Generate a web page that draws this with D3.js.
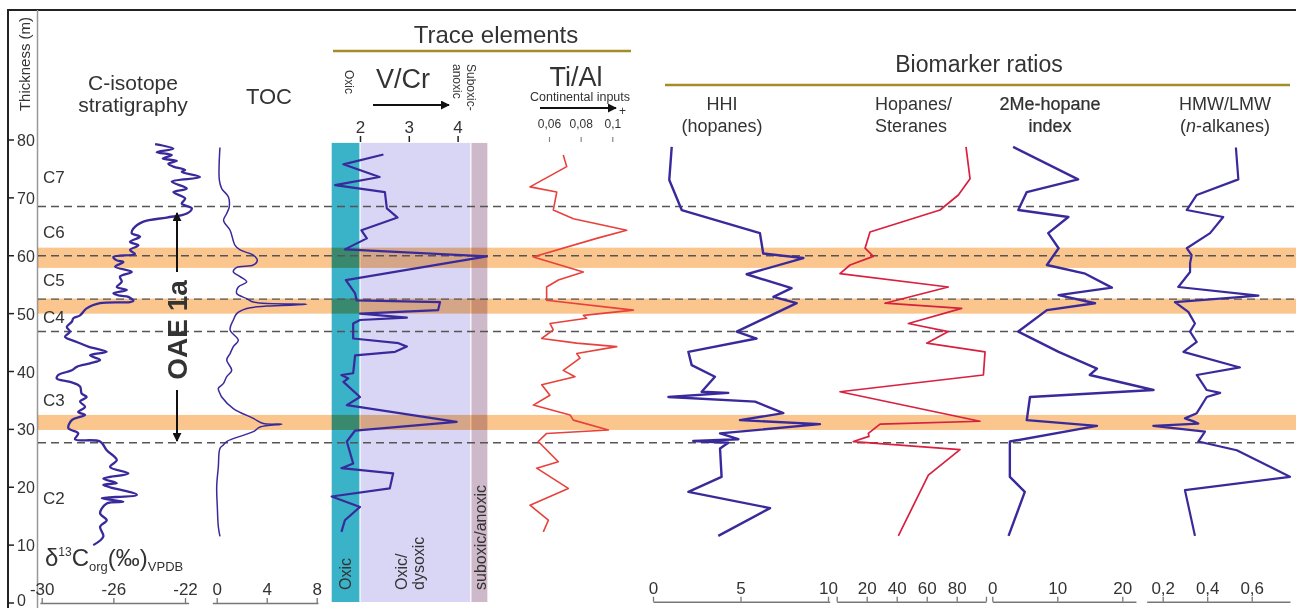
<!DOCTYPE html>
<html>
<head>
<meta charset="utf-8">
<script src="https://cdn.jsdelivr.net/npm/d3@7"></script>
<style>
  body { margin: 0; background: #fff; }
  text { font-family: "Liberation Sans", Arial, sans-serif; fill: #333; }
</style>
</head>
<body>
<div id="chart"></div>
<script>
// ---- data: [thickness (m), value] ----
const isotope = [[79.3,-23.67],[78.5,-22.65],[77.9,-23.58],[77.4,-22.74],[76.8,-23.24],[76.4,-22.46],[75.9,-22.93],[75.4,-22.65],[74.8,-21.99],[74.5,-22.18],[73.6,-21.16],[72.8,-22.74],[71.6,-21.9],[71.0,-22.65],[69.9,-21.99],[69.0,-22.18],[68.2,-21.62],[67.3,-21.9],[66.6,-23.02],[65.9,-24.32],[64.7,-24.88],[63.9,-24.97],[63.3,-24.51],[62.4,-25.07],[61.8,-24.6],[61.0,-25.07],[60.3,-24.79],[59.8,-26.0],[59.2,-25.81],[58.9,-25.44],[58.1,-25.9],[57.2,-24.97],[56.4,-25.63],[55.5,-25.53],[54.6,-25.81],[54.1,-25.25],[53.5,-26.0],[53.1,-25.63],[52.9,-25.16],[52.2,-24.88],[52.0,-25.07],[51.8,-26.74],[50.9,-27.49],[49.7,-27.86],[49.2,-28.23],[48.6,-28.32],[47.7,-28.6],[46.9,-28.42],[46.0,-28.7],[45.1,-28.04],[44.3,-27.4],[43.4,-26.37],[42.8,-27.3],[42.0,-26.74],[41.4,-27.3],[40.8,-28.04],[40.2,-28.32],[39.4,-29.07],[38.8,-29.16],[38.2,-28.42],[37.4,-27.86],[36.2,-27.77],[35.6,-27.49],[34.8,-27.86],[33.9,-27.58],[33.0,-27.96],[32.5,-27.58],[31.6,-28.32],[30.2,-28.51],[29.3,-27.96],[28.3,-28.14],[27.9,-26.74],[26.4,-26.37],[24.7,-25.81],[23.5,-26.18],[22.4,-25.16],[21.5,-26.56],[20.7,-25.81],[20.4,-26.56],[18.7,-24.69],[18.1,-26.65],[17.5,-25.44],[17.2,-26.37],[15.5,-26.74],[14.3,-26.37],[13.2,-26.74],[11.5,-26.56],[10.0,-27.12]];

const toc = [[78.7,0.26],[73.1,0.21],[71.6,0.4],[70.2,0.93],[68.4,1.0],[67.3,0.8],[66.1,0.55],[64.4,1.07],[61.8,1.47],[61.0,1.87],[60.1,2.93],[59.2,3.25],[58.4,2.93],[58.0,1.6],[57.2,1.33],[56.4,1.87],[55.5,2.4],[54.6,1.73],[53.5,1.6],[52.6,2.4],[52.0,2.93],[51.6,7.2],[51.3,4.0],[50.9,2.4],[50.0,1.6],[48.9,1.33],[47.2,1.07],[45.4,1.73],[44.3,1.33],[43.1,1.07],[42.0,0.8],[40.2,1.2],[39.1,0.8],[37.9,0.53],[37.1,0.13],[36.2,0.26],[35.6,0.4],[33.6,1.33],[31.9,2.93],[31.0,3.73],[30.9,5.2],[30.4,3.47],[29.6,2.93],[28.4,1.33],[27.9,0.8],[27.3,0.53],[26.7,0.26],[23.5,0.13],[20.1,0.0],[16.6,0.05],[13.2,0.13],[11.5,0.26]];

const vcr = [[77.5,2.48],[75.8,1.66],[73.6,2.4],[72.2,1.49],[71.0,2.51],[68.2,2.55],[66.6,2.77],[64.4,2.03],[63.0,2.14],[61.1,1.69],[59.9,4.6],[55.8,1.71],[53.5,1.9],[52.3,1.93],[52.0,3.64],[50.6,3.6],[50.0,2.0],[49.3,2.96],[48.9,2.0],[48.3,1.86],[45.7,1.86],[44.9,2.79],[44.3,2.96],[43.4,2.72],[42.8,1.9],[39.7,1.86],[39.4,1.62],[38.8,1.76],[38.2,1.66],[35.6,2.0],[34.2,1.73],[33.9,1.97],[31.3,3.98],[29.8,1.9],[27.9,1.73],[24.1,1.86],[23.3,1.62],[22.4,2.68],[19.8,2.61],[18.4,1.42],[16.6,2.0],[14.3,1.69],[12.3,1.62]];

const tial = [[77.4,0.069],[75.4,0.0712],[71.9,0.048],[71.0,0.0649],[67.9,0.0627],[66.4,0.0754],[64.4,0.1091],[63.0,0.0901],[59.8,0.0501],[57.2,0.0817],[55.8,0.0659],[54.6,0.0585],[52.3,0.0585],[50.6,0.1133],[49.7,0.0817],[49.2,0.0838],[48.3,0.0606],[47.2,0.0627],[45.7,0.0554],[44.9,0.0775],[44.3,0.1028],[43.1,0.0775],[42.3,0.0796],[40.2,0.069],[39.1,0.0764],[37.7,0.0554],[35.9,0.0606],[34.2,0.0501],[32.5,0.0733],[31.6,0.0754],[29.9,0.0975],[29.3,0.0585],[27.9,0.0532],[24.4,0.0659],[23.3,0.0522],[19.8,0.0722],[16.9,0.048],[14.3,0.0596],[12.3,0.0564]];

const hhi = [[78.8,1.07],[73.1,0.93],[67.9,1.64],[63.9,6.11],[60.4,6.3],[59.6,8.59],[56.8,5.35],[54.4,7.92],[52.9,6.88],[51.8,8.21],[46.9,4.78],[45.7,5.92],[43.4,2.02],[41.1,2.21],[39.1,3.54],[36.5,2.78],[36.3,4.3],[35.6,0.88],[34.8,5.83],[32.8,7.45],[31.6,4.97],[30.9,9.54],[29.3,3.83],[28.3,4.88],[28.0,2.3],[27.7,4.3],[26.7,3.83],[21.8,3.92],[19.2,2.02],[16.4,6.69],[11.6,3.73]];

const hopSter = [[78.8,86.2],[73.3,88.9],[70.5,81.1],[67.9,68.9],[64.1,22.2],[61.3,18.9],[59.9,24.4],[58.4,8.9],[56.9,2.2],[54.6,74.4],[51.8,32.2],[50.9,83.3],[48.3,47.8],[46.9,74.4],[44.9,60.0],[43.4,98.9],[39.4,97.8],[36.5,2.2],[31.4,95.5],[30.9,28.9],[29.3,21.1],[28.8,21.5],[27.9,11.1],[26.5,82.2],[22.1,61.1],[11.6,41.1]];

const meHopane = [[78.8,3.2],[73.2,13.2],[71.0,5.3],[67.9,4.0],[66.7,11.7],[63.9,8.6],[61.3,10.2],[58.4,8.4],[56.9,14.3],[54.5,18.4],[53.2,10.2],[51.8,15.8],[50.6,8.4],[46.9,4.0],[43.4,10.2],[40.5,16.1],[39.4,15.0],[36.8,24.8],[35.6,5.8],[31.6,5.3],[30.6,16.1],[27.9,2.7],[21.8,2.7],[19.2,5.0],[11.6,2.5]];

const hmwLmw = [[78.7,0.529],[73.2,0.54],[70.5,0.353],[67.9,0.308],[66.7,0.472],[63.9,0.413],[61.3,0.308],[60.1,0.33],[58.7,0.323],[57.2,0.323],[54.6,0.27],[53.1,0.63],[52.0,0.255],[50.3,0.315],[48.3,0.345],[46.9,0.323],[45.1,0.353],[43.4,0.293],[40.7,0.547],[39.4,0.353],[36.8,0.398],[36.3,0.458],[35.6,0.398],[32.8,0.353],[31.9,0.3],[31.3,0.345],[31.0,0.36],[30.6,0.158],[29.6,0.39],[27.9,0.36],[26.4,0.533],[21.8,0.772],[19.5,0.3],[11.6,0.345]];

// horizons and units
const eventBands = [[57.9, 61.4], [50.0, 52.6], [29.9, 32.5]];
const unitBoundaries = [68.5, 60.0, 52.5, 46.9, 27.7];
const units = [["C7", 73.6], ["C6", 64.1], ["C5", 55.8], ["C4", 49.4], ["C3", 35.1], ["C2", 18.1]];
const thicknessTicks = [0, 10, 20, 30, 40, 50, 60, 70, 80];
const redoxZones = [["Oxic", 1.42, 2.0], ["Oxic/dysoxic", 2.0, 4.27], ["suboxic/anoxic", 4.27, 4.61]];

// ---- svg ----
var svgWidth = 1296;
var svgHeight = 608;

var svg = d3.select("#chart")
  .append("svg")
  .attr("width", svgWidth)
  .attr("height", svgHeight);

const defs = svg.append("defs");
defs.append("marker")
  .attr("id", "arrow")
  .attr("viewBox", "0 0 10 10")
  .attr("refX", 9).attr("refY", 5)
  .attr("markerWidth", 4.5).attr("markerHeight", 4.5)
  .attr("markerUnits", "strokeWidth")
  .attr("orient", "auto")
  .append("path").attr("d", "M0,0 L10,5 L0,10 z").attr("fill", "#111");

// thickness scale shared by every column
const y = d3.scaleLinear().domain([0, 80]).range([603, 140]);

const xIso = d3.scaleLinear().domain([-30, -22]).range([41.7, 185]);
const xToc = d3.scaleLinear().domain([0, 8]).range([216.7, 316.7]);
const xVcr = d3.scaleLinear().domain([2, 4]).range([360, 457.6]);
const xTial = d3.scaleLinear().domain([0.06, 0.1]).range([549, 612.3]);
const xHhi = d3.scaleLinear().domain([0, 10]).range([653, 828]);
const xHop = d3.scaleLinear().domain([0, 100]).range([836.7, 986.7]);
const xMe = d3.scaleLinear().domain([0, 20]).range([992.3, 1122.3]);
const xHmw = d3.scaleLinear().domain([0.2, 0.6]).range([1162.7, 1251.7]);

const blue = "#392a9c";

// frame
svg.append("line").attr("x1", 7).attr("x2", 1296).attr("y1", 10).attr("y2", 10)
  .attr("stroke", "#222").attr("stroke-width", 2);
svg.append("line").attr("x1", 8).attr("x2", 8).attr("y1", 10).attr("y2", 608)
  .attr("stroke", "#222").attr("stroke-width", 2);
svg.append("line").attr("x1", 37.5).attr("x2", 37.5).attr("y1", 10).attr("y2", 608)
  .attr("stroke", "#999").attr("stroke-width", 1.5);

// redox background zones in the V/Cr column
const zoneFill = ["#3ab2c8", "#d9d6f5", "#cdb9c9"];
svg.selectAll(".zone")
  .data(redoxZones)
  .enter()
  .append("rect")
  .attr("class", "zone")
  .attr("x", d => xVcr(d[1]))
  .attr("width", d => xVcr(d[2]) - xVcr(d[1]))
  .attr("y", y(79.5))
  .attr("height", 602 - y(79.5))
  .attr("fill", (d, i) => zoneFill[i]);
redoxZones.slice(1).forEach(d => {
  svg.append("line").attr("x1", xVcr(d[1])).attr("x2", xVcr(d[1]))
    .attr("y1", y(79.5)).attr("y2", 602).attr("stroke", "#fff").attr("stroke-width", 1.5).attr("opacity", 0.8);
});

// OAE / event bands
svg.selectAll(".band")
  .data(eventBands)
  .enter()
  .append("rect")
  .attr("class", "band")
  .attr("x", 38)
  .attr("width", 1296 - 38)
  .attr("y", d => y(d[1]))
  .attr("height", d => y(d[0]) - y(d[1]))
  .attr("fill", "#fbc58e")
  .style("mix-blend-mode", "multiply");

// unit boundaries
svg.selectAll(".boundary")
  .data(unitBoundaries)
  .enter()
  .append("line")
  .attr("x1", 38).attr("x2", 1296)
  .attr("y1", d => y(d)).attr("y2", d => y(d))
  .attr("stroke", "#555").attr("stroke-width", 1.4)
  .attr("stroke-dasharray", "8,5");

// thickness axis
thicknessTicks.forEach(t => {
  svg.append("line").attr("x1", 8).attr("x2", 14).attr("y1", y(t)).attr("y2", y(t))
    .attr("stroke", "#222").attr("stroke-width", 1.5);
  svg.append("text").attr("x", 17).attr("y", Math.min(y(t) + 6, 606)).attr("font-size", 16).text(t);
});
svg.append("text")
  .attr("transform", "translate(30,64) rotate(-90)")
  .attr("text-anchor", "middle").attr("font-size", 15).attr("fill", "#444")
  .text("Thickness (m)");

// unit labels
svg.selectAll(".unit")
  .data(units)
  .enter()
  .append("text")
  .attr("x", 43)
  .attr("y", d => y(d[1]) + 6)
  .attr("font-size", 17)
  .text(d => d[0]);

// curves
function drawCurve(data, xs, color, width, curve) {
  const line = d3.line()
    .x(d => xs(d[1]))
    .y(d => y(d[0]))
    .curve(curve || d3.curveLinear);
  svg.append("path")
    .datum(data)
    .attr("d", line)
    .attr("fill", "none")
    .attr("stroke", color)
    .attr("stroke-width", width)
    .attr("stroke-linejoin", "round");
}
drawCurve(isotope, xIso, blue, 2.3, d3.curveCatmullRom.alpha(0.5));
drawCurve(toc, xToc, blue, 1.5, d3.curveCatmullRom.alpha(0.5));
drawCurve(vcr, xVcr, blue, 2.2);
drawCurve(tial, xTial, "#e8403a", 1.6);
drawCurve(hhi, xHhi, blue, 2.4);
drawCurve(hopSter, xHop, "#d8203f", 1.7);
drawCurve(meHopane, xMe, blue, 2.4);
drawCurve(hmwLmw, xHmw, blue, 2.2);

// OAE 1a arrows and label
svg.append("line").attr("x1", 177).attr("x2", 177).attr("y1", 272).attr("y2", 213)
  .attr("stroke", "#111").attr("stroke-width", 2).attr("marker-end", "url(#arrow)");
svg.append("line").attr("x1", 177).attr("x2", 177).attr("y1", 390).attr("y2", 441)
  .attr("stroke", "#111").attr("stroke-width", 2).attr("marker-end", "url(#arrow)");
svg.append("text")
  .attr("transform", "translate(187,330) rotate(-90)")
  .attr("text-anchor", "middle").attr("font-size", 28).attr("font-weight", "bold").attr("fill", "#111")
  .text("OAE 1a");

// bottom axes
function bottomAxis(xs, extent, values, fmt, yPos) {
  const s = xs.copy().domain(extent).range(extent.map(xs));
  const g = svg.append("g")
    .attr("transform", `translate(0, ${yPos})`)
    .call(d3.axisTop(s).tickValues(values).tickFormat(fmt).tickSize(5).tickSizeOuter(0).tickPadding(3));
  g.select(".domain").attr("stroke", "#777").attr("stroke-width", 1.5);
  g.selectAll(".tick line").attr("stroke", "#777").attr("stroke-width", 1.3);
  g.selectAll("text").attr("font-size", 17).attr("fill", "#333")
    .attr("font-family", "'Liberation Sans', Arial, sans-serif");
  return g;
}
const comma = d => String(d).replace(".", ",");
bottomAxis(xIso, [-30.1, -21.8], [-30, -26, -22], d => String(d), 603);
bottomAxis(xToc, [-0.35, 8.1], [0, 4, 8], d => String(d), 603);
bottomAxis(xHhi, [0, 10.1], [0, 5, 10], d => String(d), 601.7);
bottomAxis(xHop, [0, 99.5], [0, 20, 40, 60, 80, 99.5], d => (d === 0 || d > 90) ? "" : String(d), 601.7);
bottomAxis(xMe, [0, 22.1], [0, 10, 20], d => String(d), 601.7);
bottomAxis(xHmw, [0.128, 0.772], [0.2, 0.4, 0.6], comma, 601.7);

// top axes of the trace elements
const vAxis = svg.append("g").attr("transform", "translate(0,142)")
  .call(d3.axisTop(xVcr).tickValues([2, 3, 4]).tickFormat(d => String(d)).tickSize(6).tickPadding(3));
vAxis.select(".domain").remove();
vAxis.selectAll(".tick line").attr("stroke", "#222").attr("stroke-width", 1.5);
vAxis.selectAll("text").attr("font-size", 17).attr("fill", "#222")
  .attr("font-family", "'Liberation Sans', Arial, sans-serif");

const tAxis = svg.append("g").attr("transform", "translate(0,142)")
  .call(d3.axisTop(xTial).tickValues([0.06, 0.08, 0.1]).tickFormat(comma).tickSize(5).tickPadding(9));
tAxis.select(".domain").remove();
tAxis.selectAll(".tick line").attr("stroke", "#888").attr("stroke-width", 1.2);
tAxis.selectAll("text").attr("font-size", 12).attr("fill", "#333")
  .attr("font-family", "'Liberation Sans', Arial, sans-serif");

// column headers
svg.append("text").attr("x", 133).attr("y", 90).attr("text-anchor", "middle").attr("font-size", 21).text("C-isotope");
svg.append("text").attr("x", 133).attr("y", 112).attr("text-anchor", "middle").attr("font-size", 21).text("stratigraphy");
svg.append("text").attr("x", 269).attr("y", 104).attr("text-anchor", "middle").attr("font-size", 22).text("TOC");

svg.append("text").attr("x", 496).attr("y", 43).attr("text-anchor", "middle")
  .attr("font-size", 24).attr("font-family", "'Open Sans', sans-serif").attr("fill", "#222").text("Trace elements");
svg.append("line").attr("x1", 333).attr("x2", 631).attr("y1", 51).attr("y2", 51)
  .attr("stroke", "#a38d2a").attr("stroke-width", 2.5);

svg.append("text").attr("x", 979).attr("y", 72).attr("text-anchor", "middle")
  .attr("font-size", 23).attr("font-family", "'Open Sans', sans-serif").attr("fill", "#222").text("Biomarker ratios");
svg.append("line").attr("x1", 665).attr("x2", 1290).attr("y1", 85).attr("y2", 85)
  .attr("stroke", "#a38d2a").attr("stroke-width", 2.5);

// V/Cr header
svg.append("text").attr("x", 403).attr("y", 88).attr("text-anchor", "middle").attr("font-size", 27).attr("fill", "#111").text("V/Cr");
svg.append("line").attr("x1", 373).attr("x2", 449).attr("y1", 105).attr("y2", 105)
  .attr("stroke", "#111").attr("stroke-width", 2).attr("marker-end", "url(#arrow)");
svg.append("text").attr("transform", "translate(345,70) rotate(90)").attr("font-size", 12).text("Oxic");
svg.append("text").attr("transform", "translate(467,64) rotate(90)").attr("font-size", 12).text("Suboxic-");
svg.append("text").attr("transform", "translate(453,64) rotate(90)").attr("font-size", 12).text("anoxic");

// Ti/Al header
svg.append("text").attr("x", 576).attr("y", 86).attr("text-anchor", "middle").attr("font-size", 27).attr("fill", "#111").text("Ti/Al");
svg.append("text").attr("x", 580).attr("y", 101).attr("text-anchor", "middle").attr("font-size", 12.5).text("Continental inputs");
svg.append("line").attr("x1", 540).attr("x2", 616).attr("y1", 108).attr("y2", 108)
  .attr("stroke", "#111").attr("stroke-width", 2).attr("marker-end", "url(#arrow)");
svg.append("text").attr("x", 619).attr("y", 115).attr("font-size", 12).text("+");

// zone labels
svg.append("text").attr("transform", "translate(351,590) rotate(-90)").attr("font-size", 16).text("Oxic");
svg.append("text").attr("transform", "translate(407,590) rotate(-90)").attr("font-size", 16).text("Oxic/");
svg.append("text").attr("transform", "translate(424,590) rotate(-90)").attr("font-size", 16).text("dysoxic");
svg.append("text").attr("transform", "translate(486,590) rotate(-90)").attr("font-size", 16).text("suboxic/anoxic");

// biomarker headers
svg.append("text").attr("x", 722).attr("y", 110).attr("text-anchor", "middle").attr("font-size", 18).text("HHI");
svg.append("text").attr("x", 722).attr("y", 132).attr("text-anchor", "middle").attr("font-size", 18).text("(hopanes)");
svg.append("text").attr("x", 875).attr("y", 110).attr("font-size", 18).text("Hopanes/");
svg.append("text").attr("x", 875).attr("y", 132).attr("font-size", 18).text("Steranes");
svg.append("text").attr("x", 1050).attr("y", 110).attr("text-anchor", "middle").attr("font-size", 18)
  .attr("fill", "#111").attr("stroke", "#111").attr("stroke-width", 0.2).text("2Me-hopane");
svg.append("text").attr("x", 1050).attr("y", 132).attr("text-anchor", "middle").attr("font-size", 18)
  .attr("fill", "#111").attr("stroke", "#111").attr("stroke-width", 0.2).text("index");
svg.append("text").attr("x", 1225).attr("y", 110).attr("text-anchor", "middle").attr("font-size", 18).text("HMW/LMW");
const alk = svg.append("text").attr("x", 1225).attr("y", 132).attr("text-anchor", "middle").attr("font-size", 18);
alk.append("tspan").text("(");
alk.append("tspan").attr("font-style", "italic").text("n");
alk.append("tspan").text("-alkanes)");

// delta 13C label
const dl = svg.append("text").attr("x", 45).attr("y", 566).attr("font-size", 24).attr("fill", "#222");
dl.append("tspan").text("δ");
dl.append("tspan").attr("font-size", 12).attr("dy", -10).text("13");
dl.append("tspan").attr("dy", 10).text("C");
dl.append("tspan").attr("font-size", 13).attr("dy", 5).text("org");
dl.append("tspan").attr("dy", -5).text("(‰)");
dl.append("tspan").attr("font-size", 13).attr("dy", 5).text("VPDB");
</script>
</body>
</html>
